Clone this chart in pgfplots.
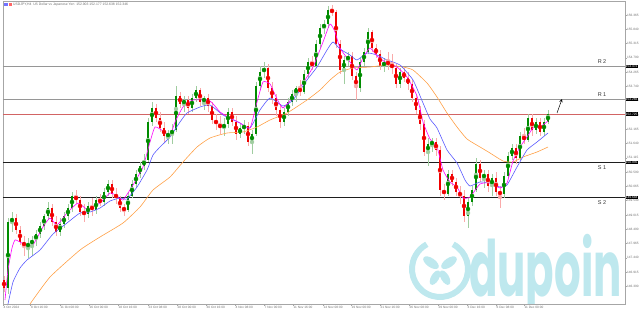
\documentclass[border=0pt]{standalone}
\usepackage{fontspec}
\setmainfont{Liberation Sans}
\newfontfamily\wmfont{Poppins}
\usepackage{pgfplots}
\usepackage{pgfplotstable}
\pgfplotsset{compat=1.18}
\definecolor{upbody}{RGB}{0,140,0}
\definecolor{upwick}{RGB}{160,205,160}
\definecolor{dnbody}{RGB}{240,0,0}
\definecolor{dnwick}{RGB}{250,170,170}
\definecolor{maM}{RGB}{255,0,255}
\definecolor{maB}{RGB}{90,90,255}
\definecolor{maO}{RGB}{255,160,70}
\definecolor{rline}{RGB}{150,150,150}
\definecolor{sline}{RGB}{30,30,30}
\definecolor{pline}{RGB}{210,100,100}
\definecolor{wm}{RGB}{190,232,238}
\definecolor{tickgray}{RGB}{110,110,110}

% candle data: x position and open/high/low/close read as chart pixel heights (top = 0)
\pgfplotstableread{
x o h l c
4 280 276 292 288
8 288 218 294 222
12 222 212 232 218
16 218 214 234 230
20 230 226 245 242
24 242 236 256 246
28 246 238 258 244
32 244 236 256 240
36 240 230 246 234
40 234 222 238 226
44 226 214 230 216
48 216 202 220 208
52 208 204 226 222
56 222 216 236 232
60 232 218 236 224
64 224 212 228 216
68 216 204 220 208
72 208 192 212 196
76 196 190 204 200
80 200 196 216 212
84 212 204 222 214
88 214 202 218 206
92 206 198 216 210
96 210 196 214 200
100 200 194 206 202
104 202 188 206 192
108 192 180 196 184
112 184 180 198 194
116 194 188 204 198
120 198 196 212 208
124 208 204 216 210
128 210 192 212 196
132 196 180 198 184
136 184 170 188 174
140 174 162 178 166
144 166 154 170 160
148 160 118 162 122
152 122 102 126 108
156 108 104 122 118
160 118 112 132 128
164 128 122 142 136
168 136 130 144 134
172 134 124 144 130
176 130 86 132 96
180 96 92 108 104
184 104 96 112 100
188 100 96 114 108
192 108 94 112 98
196 98 86 102 90
200 90 88 106 102
204 102 96 110 98
208 98 94 112 106
212 106 102 124 120
216 120 114 130 124
220 124 116 134 128
224 128 118 136 124
228 124 108 128 112
232 112 108 126 122
236 122 116 140 134
240 134 124 138 128
244 128 120 134 126
248 126 122 146 142
252 142 130 154 134
256 134 82 136 86
260 86 66 90 72
264 72 62 78 68
268 68 64 92 88
272 88 82 104 98
276 98 94 116 110
280 110 104 128 122
284 122 108 126 112
288 112 98 116 102
292 102 90 106 94
296 94 86 102 88
300 88 80 96 92
304 92 70 94 74
308 74 58 78 62
312 62 56 70 66
316 66 40 68 44
320 44 24 48 28
324 28 20 34 24
328 24 6 28 10
332 10 5 16 12
336 12 10 48 44
340 44 40 74 70
344 70 56 84 60
348 60 52 66 56
352 56 52 80 76
356 76 72 100 88
360 88 58 92 62
364 62 48 66 52
368 52 28 54 32
372 32 30 52 48
376 48 44 58 54
380 54 50 70 66
384 66 58 72 62
388 62 52 70 64
392 64 54 74 68
396 68 64 88 84
400 84 68 88 72
404 72 68 82 78
408 78 72 90 84
412 84 80 102 98
416 98 94 114 110
420 110 106 130 124
424 124 120 156 152
428 152 138 166 144
432 144 138 152 142
436 142 138 156 150
440 150 146 196 190
444 190 184 200 194
448 194 170 196 174
452 174 170 186 182
456 182 178 196 192
460 192 186 204 196
464 196 190 222 216
468 216 198 228 202
472 202 186 206 190
476 190 158 192 164
480 164 160 182 178
484 178 170 188 174
488 174 170 192 186
492 186 174 196 178
496 178 172 196 192
500 192 186 208 194
504 194 172 198 176
508 176 152 178 156
512 156 144 160 148
516 148 144 164 158
520 158 132 160 136
524 136 128 144 140
528 140 114 142 118
532 118 114 136 130
536 130 118 134 122
540 122 118 136 132
544 132 118 136 122
548 122 110 124 114
}\candles

\begin{document}
\begin{tikzpicture}[x=1bp,y=1bp]
\useasboundingbox (-3,-6) rectangle (636,304);
% watermark (behind the chart)
\begin{scope}
\clip (0,0) rectangle (622,302.5);
\node[anchor=base west, inner sep=0, xscale=0.54, transform shape, text=wm,
      font=\wmfont\bfseries\fontsize{78}{78}\selectfont] at (466,8) {dupoin};
\draw[wm, line width=6] (437,35) ++(62:28) arc[start angle=62, end angle=-242, radius=28];
\fill[wm, rotate around={35:(437,35)}] (448,35) ellipse [x radius=9, y radius=4.5];
\fill[wm, rotate around={145:(437,35)}] (448,35) ellipse [x radius=9, y radius=4.5];
\fill[wm, rotate around={-60:(437,35)}] (447,35) ellipse [x radius=8, y radius=4];
\fill[wm, rotate around={-120:(437,35)}] (447,35) ellipse [x radius=8, y radius=4];
\end{scope}
% header
\fill[blue!55] (1,297.5) rectangle (4.5,300.5);
\fill[red!60] (5.5,297.5) rectangle (9,300.5);
\node[anchor=west, inner sep=0, text=tickgray, font=\fontsize{3.4}{4}\selectfont] at (10,299)
  {USDJPY,H4\ \ US Dollar vs Japanese Yen\ \ 152.903 152.177 152.638 152.346};
\begin{axis}[
  at={(0,0)}, anchor=south west,
  scale only axis, width=622bp, height=302.5bp,
  xmin=3, xmax=625, ymin=1.5, ymax=304, y dir=reverse,
  clip=false,
  axis line style={draw=gray!70, line width=0.5bp},
  tick style={draw=gray!70, line width=0.4bp},
  tick align=outside, major tick length=1.5bp,
  ytick pos=right, xtick pos=bottom,
  ytick={15,29.28,43.56,57.84,72.12,86.4,100.68,114.96,129.24,143.52,157.8,172.08,186.36,200.64,214.92,229.2,243.48,257.76,272.04,286.32},
  yticklabels={156.365,155.840,155.315,154.790,154.265,153.740,153.215,152.690,152.165,151.640,151.115,150.590,150.065,149.540,149.015,148.490,147.965,147.440,146.915,146.390},
  yticklabel style={font=\fontsize{3.2}{4}\selectfont, text=tickgray, inner sep=0.4bp},
  xtick={3,30.5,60,89,118,148,177,206,235,264,293,323,351,380,409,438,467,496,524},
  xticklabels={4 Oct 2024,8 Oct 16:00,11 Oct 08:00,16 Oct 00:00,18 Oct 16:00,23 Oct 08:00,28 Oct 00:00,30 Oct 16:00,4 Nov 08:00,7 Nov 00:00,11 Nov 16:00,14 Nov 08:00,19 Nov 00:00,21 Nov 16:00,26 Nov 08:00,29 Nov 00:00,3 Dec 16:00,6 Dec 08:00,11 Dec 00:00},
  xticklabel style={font=\fontsize{3.2}{4}\selectfont, text=tickgray, anchor=north west, inner sep=0.4bp},
  unbounded coords=discard,
]
% support / resistance lines
\addplot[rline, line width=1.3bp] coordinates {(3,66.5) (625,66.5)};
\addplot[rline, line width=1.3bp] coordinates {(3,99.3) (625,99.3)};
\addplot[pline, line width=0.7bp] coordinates {(3,114) (625,114)};
\addplot[sline, line width=1bp] coordinates {(3,162.7) (625,162.7)};
\addplot[sline, line width=1bp] coordinates {(3,197.7) (625,197.7)};
% wicks
\addplot[upwick, only marks, mark=none, error bars/.cd, y dir=both, y explicit, error mark=none,
  error bar style={upwick, solid, line width=0.7bp}]
  table[x=x, y expr={\thisrow{c}<\thisrow{o} ? (\thisrow{h}+\thisrow{l})/2 : nan},
        y error expr={(\thisrow{l}-\thisrow{h})/2}] {\candles};
\addplot[dnwick, only marks, mark=none, error bars/.cd, y dir=both, y explicit, error mark=none,
  error bar style={dnwick, solid, line width=0.7bp}]
  table[x=x, y expr={\thisrow{c}>\thisrow{o} ? (\thisrow{h}+\thisrow{l})/2 : nan},
        y error expr={(\thisrow{l}-\thisrow{h})/2}] {\candles};
% bodies
\addplot[upbody, only marks, mark=none, error bars/.cd, y dir=both, y explicit, error mark=none,
  error bar style={upbody, solid, line width=1.8bp}]
  table[x=x, y expr={\thisrow{c}<\thisrow{o} ? (\thisrow{o}+\thisrow{c})/2 : nan},
        y error expr={max(abs(\thisrow{o}-\thisrow{c})/2,0.5)}] {\candles};
\addplot[dnbody, only marks, mark=none, error bars/.cd, y dir=both, y explicit, error mark=none,
  error bar style={dnbody, solid, line width=1.8bp}]
  table[x=x, y expr={\thisrow{c}>\thisrow{o} ? (\thisrow{o}+\thisrow{c})/2 : nan},
        y error expr={max(abs(\thisrow{o}-\thisrow{c})/2,0.5)}] {\candles};
% moving averages
\addplot[maO, line width=0.6bp, smooth, tension=0.3] coordinates {
(30,304) (50,277) (80,250) (100,237) (123,223) (140,207) (153,190) (170,177) (183,162)
(197,147) (210,138) (227,133) (243,132) (257,127) (270,120) (287,113) (307,100) (320,90)
(330,80) (340,72) (353,68) (370,67) (387,65) (403,67) (413,70) (427,83) (437,97) (447,113)
(457,127) (467,139) (480,147) (490,153) (503,161) (513,162) (523,157) (537,152) (548,147)};
\addplot[maB, line width=0.6bp, smooth, tension=0.3] coordinates {
(8,304) (13,282) (20,268) (27,260) (40,250) (53,234) (67,223) (80,213) (90,212) (100,208)
(110,201) (120,198) (127,199) (137,187) (147,170) (153,155) (160,147) (170,137) (180,122)
(187,113) (200,107) (210,105) (223,115) (240,123) (250,128) (260,110) (270,98) (283,106)
(293,100) (307,80) (317,67) (327,50) (333,42) (340,49) (350,55) (357,60) (367,53) (377,55)
(387,60) (400,65) (413,80) (423,103) (430,119) (437,128) (447,150) (457,163) (465,180)
(470,186) (480,182) (490,183) (500,187) (507,185) (517,167) (527,150) (537,142) (548,133)};
\addplot[maM, line width=0.6bp, smooth, tension=0.3] coordinates {
(5,300) (8,270) (12,248) (15,240) (20,242) (27,246) (33,245) (43,227) (50,218) (57,225)
(67,213) (78,203) (87,209) (100,203) (110,193) (117,196) (123,200) (133,185) (143,167)
(150,142) (155,127) (163,131) (170,136) (175,122) (183,107) (193,100) (210,101) (220,112)
(230,118) (240,123) (250,128) (257,102) (263,82) (270,84) (277,99) (283,108) (293,97)
(303,83) (313,67) (323,42) (330,24) (335,32) (340,48) (350,62) (357,70) (363,58) (370,48)
(378,57) (387,63) (397,67) (407,77) (417,96) (423,122) (430,139) (437,147) (443,170)
(450,182) (457,187) (463,198) (470,197) (480,184) (490,183) (500,188) (507,183) (513,161)
(520,147) (527,137) (533,128) (540,127) (548,121)};
% arrow
\addplot[black, line width=0.5bp, -stealth] coordinates {(557,113) (562,99)};
% level labels
\node[text=black!80, font=\fontsize{5.5}{6}\selectfont] at (axis cs:602,62) {R 2};
\node[text=black!80, font=\fontsize{5.5}{6}\selectfont] at (axis cs:602,94.5) {R 1};
\node[text=black!80, font=\fontsize{5.5}{6}\selectfont] at (axis cs:602,167.5) {S 1};
\node[text=black!80, font=\fontsize{5.5}{6}\selectfont] at (axis cs:602,202.5) {S 2};
% price boxes on the scale
\foreach \yy/\tt in {66.5/154.472,99.3/153.266,114/152.725,162.7/150.935,197.7/149.648}{
  \edef\temp{\noexpand\node[fill=black, text=white, anchor=west, inner sep=0.4bp,
    font=\noexpand\fontsize{3.2}{4}\noexpand\selectfont] at (axis cs:625.3,\yy) {\tt};}
  \temp
}
\end{axis}
\end{tikzpicture}
\end{document}
